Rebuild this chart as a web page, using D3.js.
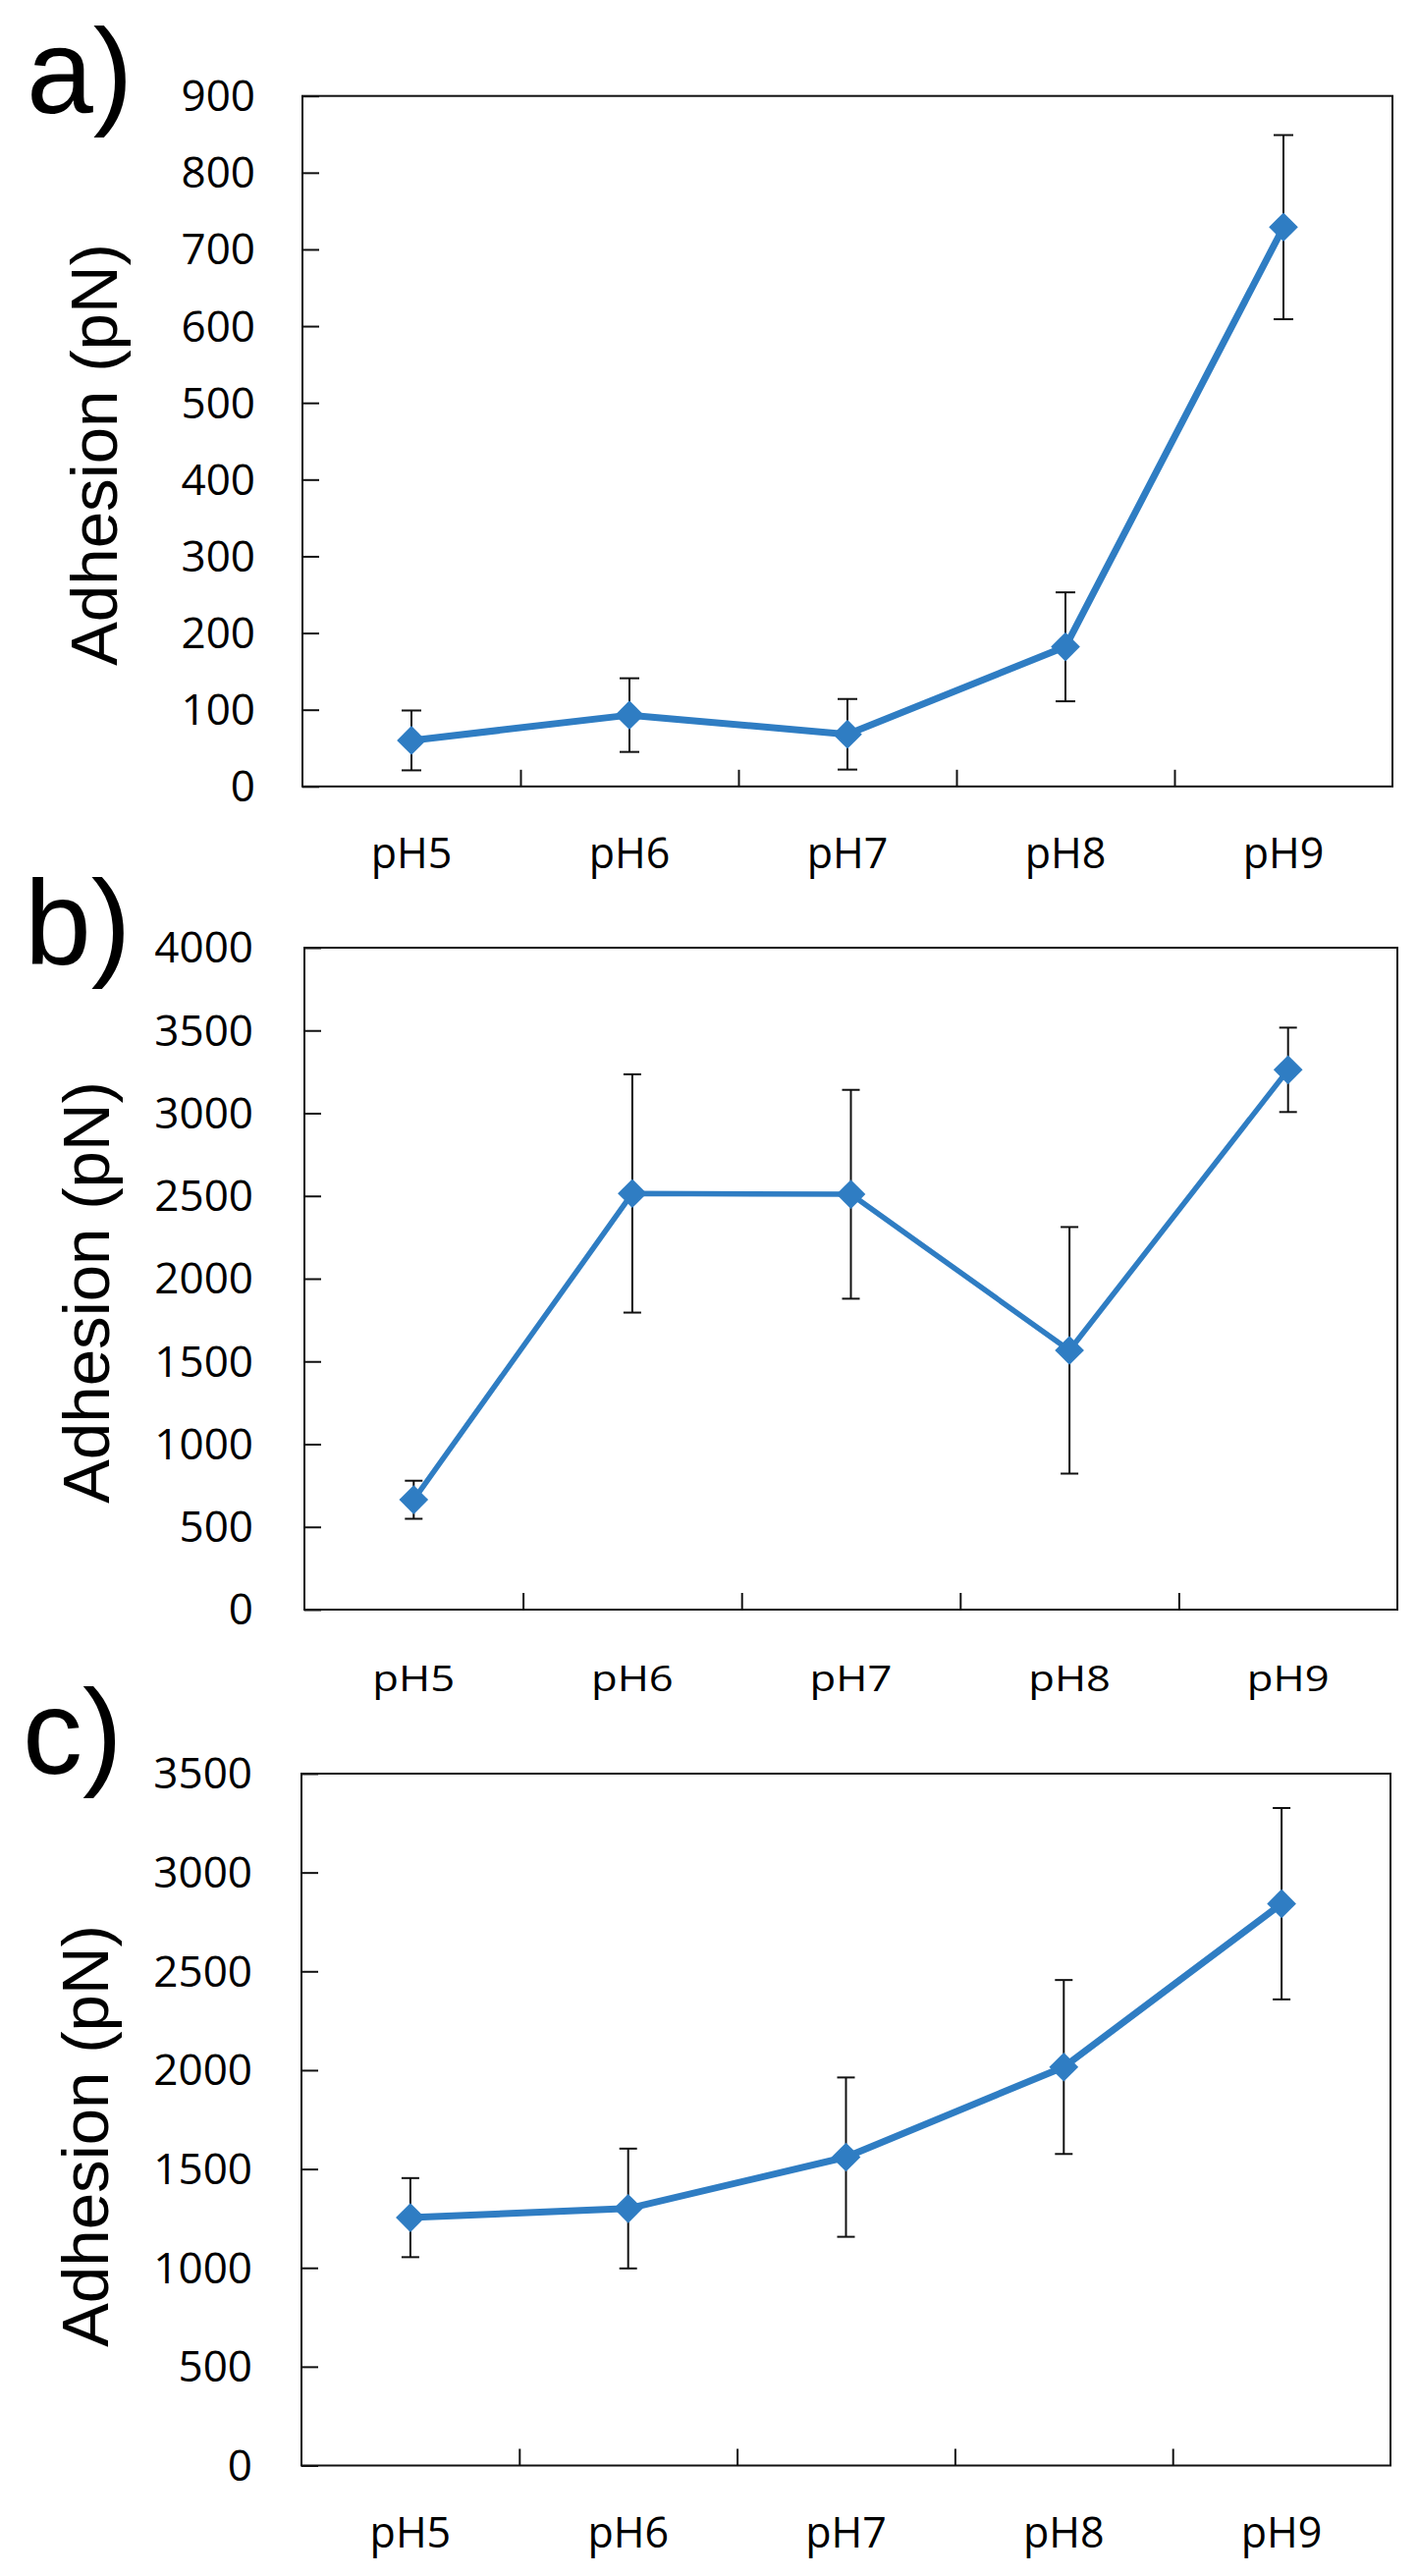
<!DOCTYPE html>
<html>
<head>
<meta charset="utf-8">
<script src="https://d3js.org/d3.v7.min.js"></script>
<style>
  body { margin: 0; background: #fff; }
</style>
</head>
<body>
<div id="chart"></div>
<script>
// data
var categories = ["pH5", "pH6", "pH7", "pH8", "pH9"];

var adhesionA = [60, 93, 68, 182, 729];
var errorA    = [39, 48, 46, 71, 120];

var adhesionB = [664, 2515, 2510, 1567, 3262];
var errorB    = [115, 720, 631, 745, 255];

var adhesionC = [1254, 1300, 1560, 2016, 2842];
var errorC    = [200, 303, 403, 440, 484];

var yMaxA = 900,  yStepA = 100;
var yMaxB = 4000, yStepB = 500;
var yMaxC = 3500, yStepC = 500;

var blue = "#2f7dc3";

var svg = d3.select("#chart").append("svg")
  .attr("width", 1443)
  .attr("height", 2623);

svg.append("rect").attr("width", 1443).attr("height", 2623).attr("fill", "#fff");

var panels = [
  {letter: "a)", values: adhesionA, errors: errorA, ymax: yMaxA, step: yStepA,
   left: 308, right: 1418, top: 97.7, bottom: 800.8,
   pad: 48, titleX: 119, titleY: 463, letterX: 27, letterY: 115,
   lineW: 7, cap: 10, xFont: 43, xStretch: 1},
  {letter: "b)", values: adhesionB, errors: errorB, ymax: yMaxB, step: yStepB,
   left: 310, right: 1423, top: 965, bottom: 1639,
   pad: 52, titleX: 111, titleY: 1316, letterX: 25, letterY: 982,
   lineW: 5.5, cap: 9, xFont: 37, xStretch: 1.18},
  {letter: "c)", values: adhesionC, errors: errorC, ymax: yMaxC, step: yStepC,
   left: 307, right: 1416, top: 1806, bottom: 2510.5,
   pad: 50, titleX: 110, titleY: 2175, letterX: 23, letterY: 1806,
   lineW: 7, cap: 9, xFont: 43, xStretch: 1}
];

panels.forEach(function(p) {
  var g = svg.append("g");

  var x = d3.scaleBand().domain(categories).range([p.left, p.right]);
  var xEdge = d3.scaleLinear().domain([0, categories.length]).range([p.left, p.right]);
  var y = d3.scaleLinear().domain([0, p.ymax]).range([p.bottom, p.top]);
  var cx = function(d, i) { return x(categories[i]) + x.bandwidth() / 2; };

  // frame
  g.append("rect")
    .attr("x", p.left).attr("y", p.top)
    .attr("width", p.right - p.left).attr("height", p.bottom - p.top)
    .attr("fill", "none").attr("stroke", "#111").attr("stroke-width", 2);

  // y axis, ticks pointing inward
  var yAxis = g.append("g")
    .attr("transform", "translate(" + p.left + ",0)")
    .call(d3.axisLeft(y)
      .tickValues(d3.range(0, p.ymax + 1, p.step))
      .tickFormat(d3.format("d"))
      .tickSize(-17).tickPadding(p.pad));
  yAxis.select(".domain").remove();
  yAxis.selectAll("line").attr("stroke", "#111").attr("stroke-width", 2);
  yAxis.selectAll("text")
    .attr("font-family", "'Open Sans', sans-serif")
    .attr("font-size", 44)
    .attr("fill", "#000")
    .attr("dy", "0.34em");

  // category boundary ticks on the bottom
  var xTicks = g.append("g")
    .attr("transform", "translate(0," + p.bottom + ")")
    .call(d3.axisBottom(xEdge).tickValues(d3.range(1, categories.length)).tickSize(-17).tickFormat(""));
  xTicks.select(".domain").remove();
  xTicks.selectAll("line").attr("stroke", "#111").attr("stroke-width", 2);

  // category labels
  var xAxis = g.append("g")
    .attr("transform", "translate(0," + p.bottom + ")")
    .call(d3.axisBottom(x).tickSize(0));
  xAxis.select(".domain").remove();
  xAxis.selectAll("text")
    .attr("font-family", "'Open Sans', sans-serif")
    .attr("font-size", p.xFont)
    .attr("fill", "#000")
    .attr("y", 0).attr("dy", null)
    .attr("transform", "translate(0,83) scale(" + p.xStretch + ",1)");

  // error bars
  var bars = g.append("g").selectAll("g").data(p.values).enter().append("g");
  bars.append("line")
    .attr("x1", cx).attr("x2", cx)
    .attr("y1", function(d, i) { return y(d + p.errors[i]); })
    .attr("y2", function(d, i) { return y(d - p.errors[i]); });
  bars.append("line")
    .attr("x1", function(d, i) { return cx(d, i) - p.cap; })
    .attr("x2", function(d, i) { return cx(d, i) + p.cap; })
    .attr("y1", function(d, i) { return y(d + p.errors[i]); })
    .attr("y2", function(d, i) { return y(d + p.errors[i]); });
  bars.append("line")
    .attr("x1", function(d, i) { return cx(d, i) - p.cap; })
    .attr("x2", function(d, i) { return cx(d, i) + p.cap; })
    .attr("y1", function(d, i) { return y(d - p.errors[i]); })
    .attr("y2", function(d, i) { return y(d - p.errors[i]); });
  bars.selectAll("line").attr("stroke", "#111").attr("stroke-width", 2);

  // line
  var line = d3.line()
    .x(function(d, i) { return cx(d, i); })
    .y(function(d) { return y(d); });
  g.append("path")
    .datum(p.values)
    .attr("d", line)
    .attr("fill", "none")
    .attr("stroke", blue)
    .attr("stroke-width", p.lineW)
    .attr("stroke-linejoin", "round");

  // diamond markers
  g.append("g").selectAll("path").data(p.values).enter().append("path")
    .attr("d", d3.symbol().type(d3.symbolSquare).size(440))
    .attr("transform", function(d, i) {
      return "translate(" + cx(d, i) + "," + y(d) + ") rotate(45)";
    })
    .attr("fill", blue);

  // y title
  g.append("text")
    .attr("transform", "translate(" + p.titleX + "," + p.titleY + ") rotate(-90)")
    .attr("text-anchor", "middle")
    .attr("font-family", "'Liberation Sans', Arial, sans-serif")
    .attr("font-size", 67)
    .attr("textLength", 430)
    .attr("lengthAdjust", "spacingAndGlyphs")
    .attr("fill", "#000")
    .text("Adhesion (pN)");

  // panel letter
  g.append("text")
    .attr("x", p.letterX).attr("y", p.letterY)
    .attr("font-family", "'Liberation Sans', Arial, sans-serif")
    .attr("font-size", 122)
    .attr("fill", "#000")
    .text(p.letter);
});
</script>
</body>
</html>
